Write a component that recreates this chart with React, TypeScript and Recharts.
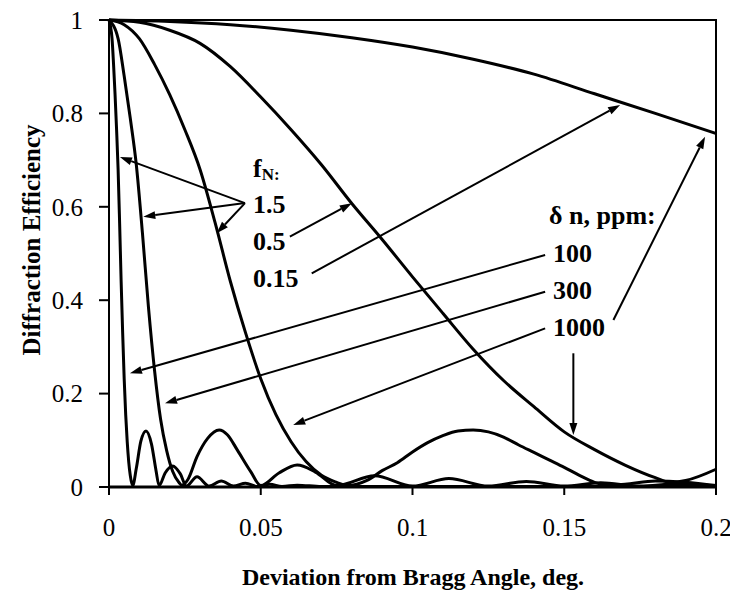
import { LineChart, Line, XAxis, YAxis, ReferenceArea, ReferenceLine } from 'recharts';

// deviation from Bragg angle (deg.) / diffraction efficiency
const curveFn015: [number, number][] = [
  [0, 1], [0.02, 0.997], [0.04, 0.99], [0.06, 0.978], [0.08, 0.962], [0.1, 0.942],
  [0.12, 0.916], [0.14, 0.884], [0.16, 0.842], [0.18, 0.8], [0.2, 0.757],
];

const curveFn05: [number, number][] = [
  [0, 1], [0.01, 0.995], [0.02, 0.978], [0.03, 0.95], [0.04, 0.9], [0.05, 0.835],
  [0.06, 0.765], [0.07, 0.69], [0.08, 0.607], [0.09, 0.53], [0.1, 0.45], [0.11, 0.372],
  [0.12, 0.295], [0.13, 0.228], [0.14, 0.172], [0.15, 0.118], [0.16, 0.08], [0.17, 0.047],
  [0.18, 0.02], [0.185, 0.01], [0.19, 0.014], [0.2, 0.038],
];

const curve1000ppm: [number, number][] = [
  [0, 1], [0.005, 0.99], [0.01, 0.96], [0.015, 0.905], [0.02, 0.84], [0.025, 0.765],
  [0.03, 0.68], [0.035, 0.565], [0.04, 0.44], [0.045, 0.33], [0.05, 0.232], [0.055, 0.155],
  [0.06, 0.097], [0.065, 0.054], [0.07, 0.025], [0.075, 0.01], [0.0785, 0.003],
  [0.085, 0.014], [0.09, 0.035], [0.095, 0.052], [0.1, 0.075], [0.105, 0.095], [0.11, 0.11],
  [0.115, 0.12], [0.12, 0.122], [0.125, 0.118], [0.13, 0.107], [0.135, 0.09], [0.14, 0.074],
  [0.145, 0.058], [0.15, 0.042], [0.155, 0.025], [0.16, 0.01], [0.165, 0.004], [0.17, 0.006],
  [0.18, 0.013], [0.19, 0.01], [0.2, 0.003],
];

const curve300ppm: [number, number][] = [
  [0, 1], [0.003, 0.96], [0.005, 0.88], [0.007, 0.79], [0.009, 0.69], [0.011, 0.545],
  [0.013, 0.385], [0.015, 0.25], [0.017, 0.145], [0.019, 0.078], [0.021, 0.033],
  [0.023, 0.01], [0.024, 0.004], [0.026, 0.016], [0.029, 0.065], [0.0325, 0.104],
  [0.0363, 0.122], [0.039, 0.112], [0.0423, 0.079], [0.0467, 0.033], [0.05, 0.003],
  [0.056, 0.03], [0.062, 0.047], [0.068, 0.032], [0.075, 0.003], [0.0875, 0.024],
  [0.1, 0.002], [0.112, 0.018], [0.125, 0.002], [0.1375, 0.012], [0.15, 0.002],
  [0.162, 0.009], [0.175, 0.002], [0.187, 0.007], [0.2, 0.002],
];

const curve100ppm: [number, number][] = [
  [0, 1], [0.001, 0.96], [0.0015, 0.905], [0.002, 0.84], [0.0025, 0.765], [0.003, 0.68],
  [0.0035, 0.565], [0.004, 0.44], [0.0045, 0.33], [0.005, 0.232], [0.0055, 0.155],
  [0.006, 0.097], [0.0065, 0.054], [0.007, 0.025], [0.0078, 0.003], [0.009, 0.04],
  [0.0105, 0.098], [0.0122, 0.12], [0.014, 0.092], [0.0155, 0.035], [0.0165, 0.003],
  [0.0185, 0.03], [0.021, 0.045], [0.0235, 0.028], [0.0255, 0.002], [0.029, 0.022],
  [0.033, 0.002], [0.037, 0.013], [0.041, 0.002], [0.045, 0.008], [0.049, 0.001],
  [0.053, 0.006], [0.057, 0.001], [0.062, 0.004], [0.07, 0.001], [0.2, 0.001],
];

const xTicks = [0, 0.05, 0.1, 0.15, 0.2];
const xMinorTicks = [
  0, 0.01, 0.02, 0.03, 0.04, 0.05, 0.06, 0.07, 0.08, 0.09, 0.1,
  0.11, 0.12, 0.13, 0.14, 0.15, 0.16, 0.17, 0.18, 0.19, 0.2,
];
const yTicks = [0, 0.2, 0.4, 0.6, 0.8, 1];
const yMinorTicks = [0, 0.1, 0.2, 0.3, 0.4, 0.5, 0.6, 0.7, 0.8, 0.9, 1];

// annotation arrows: [from, to] in data units
const arrows: [number, number, number, number][] = [
  [0.0448, 0.608, 0.0036, 0.7066],
  [0.0448, 0.608, 0.0113, 0.5788],
  [0.0448, 0.608, 0.0355, 0.5433],
  [0.0596, 0.536, 0.08, 0.6075],
  [0.0668, 0.4576, 0.1684, 0.818],
  [0.1437, 0.4968, 0.0069, 0.2435],
  [0.1437, 0.4182, 0.01845, 0.1792],
  [0.1437, 0.3398, 0.0607, 0.1328],
  [0.1662, 0.3576, 0.1964, 0.7501],
  [0.153, 0.2863, 0.153, 0.1113],
];

const series = [
  { name: 'fN 0.15', points: curveFn015 },
  { name: 'fN 0.5', points: curveFn05 },
  { name: '1000 ppm', points: curve1000ppm },
  { name: '300 ppm', points: curve300ppm },
  { name: '100 ppm', points: curve100ppm },
];

const serif = '"Liberation Serif", "Times New Roman", serif';

function Arrow(props: any) {
  const { x1, y1, x2, y2 } = props;
  const ang = Math.atan2(y2 - y1, x2 - x1);
  const len = 12;
  const half = 4;
  const bx = x2 - len * Math.cos(ang);
  const by = y2 - len * Math.sin(ang);
  const p1 = `${bx + half * Math.sin(ang)},${by - half * Math.cos(ang)}`;
  const p2 = `${bx - half * Math.sin(ang)},${by + half * Math.cos(ang)}`;
  return (
    <g>
      <line x1={x1} y1={y1} x2={bx} y2={by} stroke="#000" strokeWidth={2} />
      <polygon points={`${x2},${y2} ${p1} ${p2}`} fill="#000" />
    </g>
  );
}

export default function App() {
  const tickStyle = { fill: '#000', fontSize: 25, fontFamily: serif };
  return (
    <div style={{ position: 'relative', width: 728, height: 591, marginTop: -6, background: '#fff' }}>
      <LineChart width={728} height={591} margin={{ top: 18, right: 20, bottom: 66, left: 31 }}>
        <XAxis
          dataKey="x"
          type="number"
          domain={[0, 0.2]}
          ticks={xTicks}
          interval={0}
          height={40}
          tickSize={8}
          tickMargin={23}
          tick={tickStyle}
          axisLine={{ stroke: '#000', strokeWidth: 3 }}
          tickLine={{ stroke: '#000', strokeWidth: 2 }}
        />
        <XAxis
          xAxisId="minor"
          dataKey="x"
          type="number"
          domain={[0, 0.2]}
          ticks={xMinorTicks}
          interval={0}
          mirror
          tick={false}
          tickSize={6}
          axisLine={false}
          tickLine={{ stroke: '#000', strokeWidth: 2 }}
        />
        <YAxis
          type="number"
          domain={[0, 1]}
          ticks={yTicks}
          interval={0}
          width={70}
          tickSize={10}
          tickMargin={16}
          tick={tickStyle}
          axisLine={{ stroke: '#000', strokeWidth: 2 }}
          tickLine={{ stroke: '#000', strokeWidth: 2 }}
        />
        <YAxis
          yAxisId="minor"
          type="number"
          domain={[0, 1]}
          ticks={yMinorTicks}
          interval={0}
          mirror
          tick={false}
          tickSize={7}
          axisLine={false}
          tickLine={{ stroke: '#000', strokeWidth: 2 }}
        />
        <ReferenceArea x1={0} x2={0.2} y1={0} y2={1} fill="none" stroke="#000" strokeWidth={2} />
        {series.map((s) => (
          <Line
            key={s.name}
            name={s.name}
            data={s.points.map(([x, y]) => ({ x, y }))}
            dataKey="y"
            type="monotone"
            stroke="#000"
            strokeWidth={3}
            dot={false}
            isAnimationActive={false}
          />
        ))}
        {arrows.map(([xa, ya, xb, yb], i) => (
          <ReferenceLine
            key={`arrow-${i}`}
            segment={[{ x: xa, y: ya }, { x: xb, y: yb }]}
            shape={Arrow}
          />
        ))}
      </LineChart>
      <svg
        width={728}
        height={591}
        style={{ position: 'absolute', left: 0, top: 0, pointerEvents: 'none' }}
        fontFamily={serif}
        fontWeight="bold"
      >
        <text x={245} y={175} fontSize={26}>
          f<tspan fontSize={17} dy={3}>N:</tspan>
        </text>
        <text x={245} y={211} fontSize={26}>1.5</text>
        <text x={245} y={248} fontSize={26}>0.5</text>
        <text x={245} y={285} fontSize={26}>0.15</text>
        <text x={541} y={222} fontSize={26}>δ n, ppm:</text>
        <text x={545} y={260} fontSize={26}>100</text>
        <text x={545} y={297} fontSize={26}>300</text>
        <text x={545} y={334} fontSize={26}>1000</text>
        <text x={405} y={583} fontSize={24} textAnchor="middle">
          Deviation from Bragg Angle, deg.
        </text>
        <text
          x={23}
          y={238}
          fontSize={25}
          textAnchor="middle"
          dominantBaseline="central"
          transform="rotate(-90 23 238)"
        >
          Diffraction Efficiency
        </text>
      </svg>
    </div>
  );
}
